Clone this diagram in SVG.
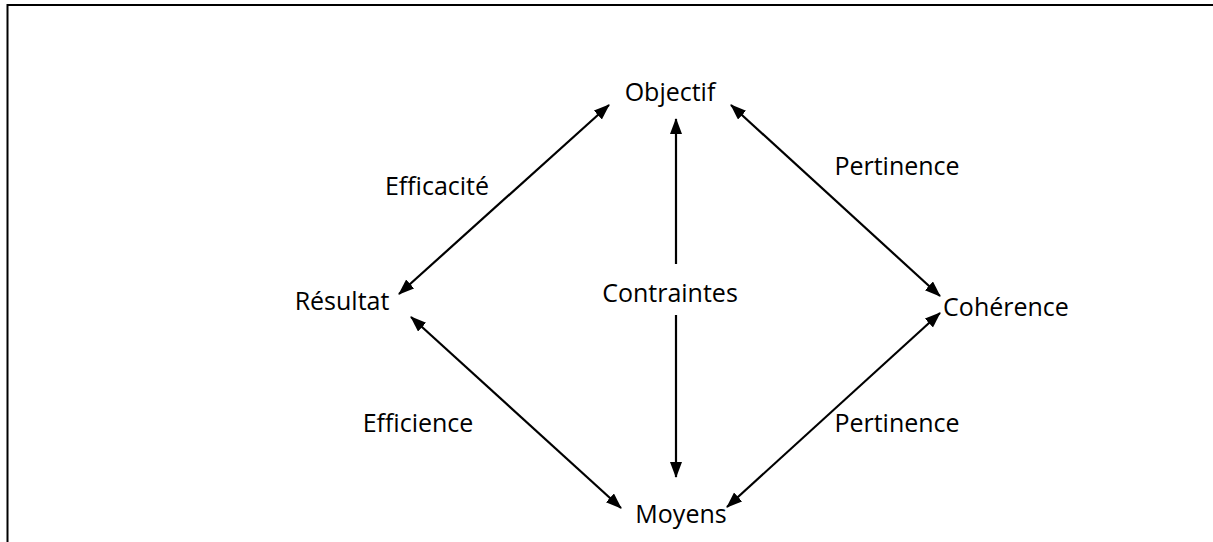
<svg xmlns="http://www.w3.org/2000/svg" width="1213" height="542" viewBox="0 0 1213 542">
<style>
.lbl{font-family:"Open Sans","Liberation Sans",sans-serif;font-size:25px;fill:#000;text-anchor:middle}
.con{stroke:#000;stroke-width:2.2;fill:none}
</style>
<defs>
<marker id="ah" markerUnits="userSpaceOnUse" markerWidth="18" markerHeight="14" refX="15" refY="6" orient="auto-start-reverse">
<path d="M0,0 L16,6 L0,12 z" fill="#000"/>
</marker>
</defs>
<rect width="1213" height="542" fill="#fff"/>
<path d="M7.5,542 V5 H1213" stroke="#000" stroke-width="2" fill="none"/>
<g id="connectors">
<line class="con" x1="399" y1="294" x2="609" y2="105" marker-start="url(#ah)" marker-end="url(#ah)"/>
<line class="con" x1="731" y1="105" x2="940" y2="296" marker-start="url(#ah)" marker-end="url(#ah)"/>
<line class="con" x1="411" y1="317" x2="621" y2="508" marker-start="url(#ah)" marker-end="url(#ah)"/>
<line class="con" x1="940" y1="313" x2="727" y2="507" marker-start="url(#ah)" marker-end="url(#ah)"/>
<line class="con" x1="676" y1="264" x2="676" y2="119" marker-end="url(#ah)"/>
<line class="con" x1="676" y1="315" x2="676" y2="477" marker-end="url(#ah)"/>
</g>
<g id="objectif"><text class="lbl" x="670" y="101">Objectif</text></g>
<g id="resultat"><text class="lbl" x="342" y="310">Résultat</text></g>
<g id="contraintes"><text class="lbl" x="670" y="302">Contraintes</text></g>
<g id="coherence"><text class="lbl" x="1006" y="316">Cohérence</text></g>
<g id="moyens"><text class="lbl" x="681" y="523">Moyens</text></g>
<g id="lbl-efficacite"><text class="lbl" x="437" y="195">Efficacité</text></g>
<g id="lbl-pertinence1"><text class="lbl" x="897" y="175">Pertinence</text></g>
<g id="lbl-efficience"><text class="lbl" x="418" y="432">Efficience</text></g>
<g id="lbl-pertinence2"><text class="lbl" x="897" y="432">Pertinence</text></g>
</svg>
